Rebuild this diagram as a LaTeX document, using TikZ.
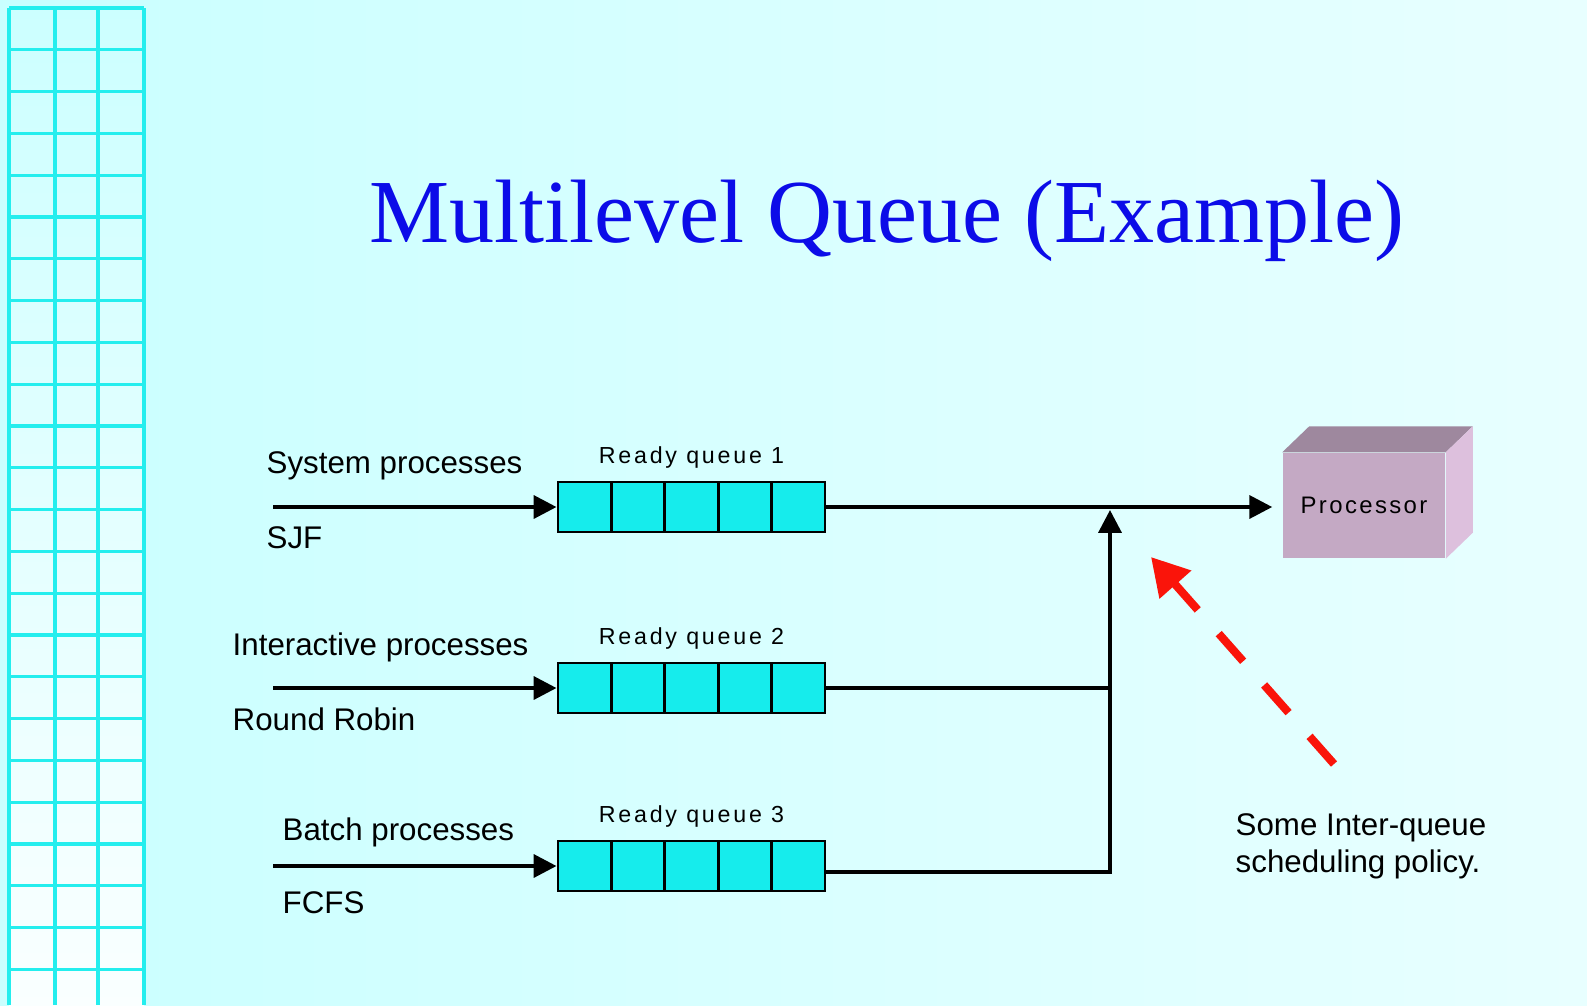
\documentclass[tikz,border=0pt]{standalone}
\usepackage{fontspec}
\setmainfont{Liberation Sans}
\newfontfamily\titlefont{Liberation Serif}
\usetikzlibrary{positioning, arrows.meta, calc}

\definecolor{titleblue}{RGB}{12,12,232}
\definecolor{qfill}{RGB}{22,236,236}
\definecolor{gridcyan}{RGB}{36,238,238}
\definecolor{procfront}{RGB}{196,169,196}
\definecolor{proctop}{RGB}{158,136,158}
\definecolor{procside}{RGB}{221,192,221}
\definecolor{policyred}{RGB}{250,20,10}

\begin{document}
\begin{tikzpicture}[
  x=0.01cm, y=-0.01cm,
  font=\fontsize{8.9}{10.5}\selectfont,
  >={Triangle[length=6.5pt, width=6.5pt]},
  flow/.style={->, line width=1.1pt},
  feed/.style={line width=1.1pt},
  queue/.style={draw=black, line width=0.8pt, fill=qfill, minimum width=26.7mm, minimum height=5mm,
                inner sep=0pt,
                path picture={\foreach \k in {1,...,4}
                  \draw[line width=0.8pt]
                    ($(path picture bounding box.south west)!\k/5!(path picture bounding box.south east)$) --
                    ($(path picture bounding box.north west)!\k/5!(path picture bounding box.north east)$);}},
  qlabel/.style={inner sep=0pt, font=\fontsize{6.6}{8}\selectfont\addfontfeatures{LetterSpace=12}},
  txt/.style={inner sep=0pt, anchor=base west},
  procbox/.style={fill=procfront, minimum width=16.2mm, minimum height=10.5mm, inner sep=0pt,
                  font=\fontsize{6.8}{8}\selectfont\addfontfeatures{LetterSpace=10}},
  gridline/.style={gridcyan, line width=0.95pt},
  policy/.style={-{Triangle[length=10.5pt, width=11.5pt]}, line width=2.3pt, policyred,
                 dash pattern=on 10.5pt off 9pt},
]
\useasboundingbox (0,0) rectangle (1587,1005);

% ================= background and side grid =================
\shade[left color=cyan!21!white, right color=cyan!9!white] (0,0) rectangle (1587,1005);
\shade[top color=cyan!20!white, bottom color=cyan!2!white] (9,8) rectangle (144,1005);
\foreach \gx in {9,55,98,144}
  \draw[gridline] (\gx,8) -- (\gx,1005);
\foreach \gy in {0,...,23}
  \draw[gridline] (9,{8+41.8*\gy}) -- (144,{8+41.8*\gy});

% ================= title =================
\node[font=\titlefont\fontsize{25.6}{30}\selectfont, text=titleblue, anchor=base, inner sep=0pt]
  (title) at (887,242) {Multilevel Queue (Example)};

% ================= ready queues =================
\node[queue] (q1) at (691.5,507) {};
\node[queue] (q2) at (691.5,688) {};
\node[queue] (q3) at (691.5,866) {};
\node[qlabel, above=1.2mm of q1] (ql1) {Ready queue 1};
\node[qlabel, above=1.2mm of q2] (ql2) {Ready queue 2};
\node[qlabel, above=1.2mm of q3] (ql3) {Ready queue 3};

% incoming processes
\coordinate (in1) at (273,507);
\coordinate (in2) at (273,688);
\coordinate (in3) at (273,866);
\draw[flow] (in1) -- (q1.west);
\draw[flow] (in2) -- (q2.west);
\draw[flow] (in3) -- (q3.west);

\node[txt] (sys)   at (266,473) {System processes};
\node[txt] (sjf)   at (266,548) {SJF};
\node[txt] (inter) at (232,655) {Interactive processes};
\node[txt] (rr)    at (232,730) {Round Robin};
\node[txt] (batch) at (282,840) {Batch processes};
\node[txt] (fcfs)  at (282,913) {FCFS};

% ================= processor =================
\node[procbox] (proc) at (1364,505.5) {Processor};
\fill[proctop] (proc.north west) -- ([shift={(27,-26)}]proc.north west)
  -- ([shift={(27,-26)}]proc.north east) -- (proc.north east) -- cycle;
\fill[procside] (proc.north east) -- ([shift={(27,-26)}]proc.north east)
  -- ([shift={(27,-26)}]proc.south east) -- (proc.south east) -- cycle;

% queues feed the processor
\coordinate (merge) at (1110,507);
\draw[flow, shorten >=1mm] (q1.east) -- (q1.east -| proc.west);
\draw[feed] (q2.east) -- (q2.east -| merge);
\draw[flow, shorten >=0.3mm] ([yshift=-0.6mm]q3.east) -| (merge);

% ================= inter-queue policy =================
\coordinate (pol) at (1334,764);
\coordinate (poltip) at (1151,557);
\draw[policy] (pol) -- (poltip);
\node[txt, align=left] (note) at (1235,872) {Some Inter-queue\\scheduling policy.};

\end{tikzpicture}
\end{document}
